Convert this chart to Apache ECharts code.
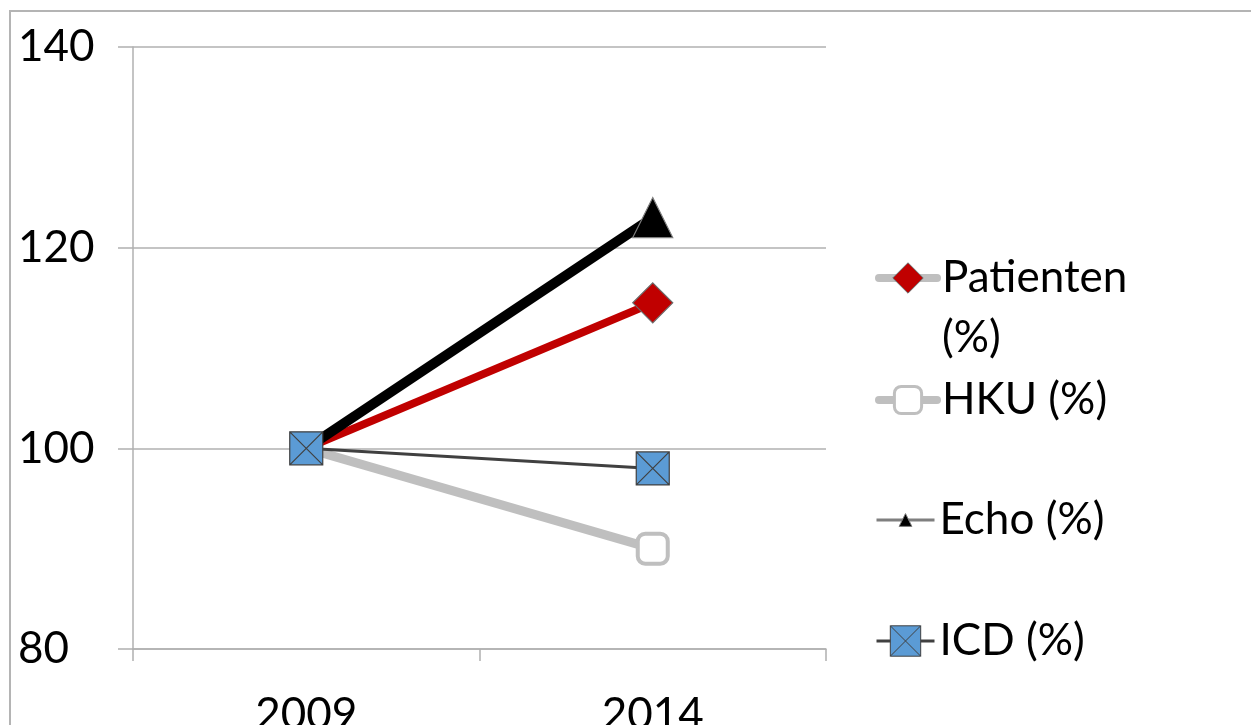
<!DOCTYPE html>
<html>
<head>
<meta charset="utf-8">
<script src="https://cdn.jsdelivr.net/npm/echarts@6/dist/echarts.min.js"></script>
<style>
html,body{margin:0;padding:0;background:#fff;overflow:hidden;}
#wrap{position:relative;width:1251px;height:725px;}
#frame{position:absolute;left:9px;top:10px;width:1300px;height:800px;border-left:2px solid #b4b4b4;border-top:2px solid #b4b4b4;}
#chart{position:absolute;left:0;top:0;width:1251px;height:725px;}
</style>
</head>
<body>
<div id="wrap"><div id="frame"></div><div id="chart"></div></div>
<script>
const categories = ['2009', '2014'];
const patienten = [100, 114.5];
const hku = [100, 90];
const echo = [100, 123];
const icd = [100, 98];
const yTicks = [80, 100, 120, 140];
const seriesNames = ['Patienten (%)', 'HKU (%)', 'Echo (%)', 'ICD (%)'];

const FONT = 'Lato, "Open Sans", sans-serif';
const FS = 44;
const GRID = '#b0b0b0';
const crossSquare = 'path://M0,0 L10,0 L10,10 L0,10 Z M0,0 L10,10 M10,0 L0,10';

const chart = echarts.init(document.getElementById('chart'), null, {renderer: 'canvas'});

function legendBox(name, top, itemHeight, itemStyle, lineStyle, formatter) {
  return {
    show: true,
    orient: 'vertical',
    left: 875,
    top: top,
    padding: 0,
    itemWidth: 58,
    itemHeight: itemHeight,
    selectedMode: false,
    formatter: formatter || '{name}',
    textStyle: {fontFamily: FONT, fontSize: FS, color: '#000', lineHeight: 60},
    data: [{name: name, itemStyle: itemStyle, lineStyle: lineStyle}]
  };
}

// hide the 2009 markers that sit under the ICD marker
function hideFirst(size) {
  return function (v, p) { return p.dataIndex === 0 ? 0 : size; };
}

const option = {
  animation: false,
  backgroundColor: 'transparent',
  grid: {left: 133, right: 425, top: 47, bottom: 76, outerBoundsMode: 'none', containLabel: false},
  legend: [
    legendBox(seriesNames[0], 278 - 90, 38,
      {color: '#c00000', borderColor: '#6b6b6b', borderWidth: 1},
      {color: '#bfbfbf', width: 8, cap: 'round'},
      function () { return '\nPatienten\n(%)'; }),
    legendBox(seriesNames[1], 400 - 30, 34,
      {color: '#ffffff', borderColor: '#bfbfbf', borderWidth: 3},
      {color: '#bfbfbf', width: 8, cap: 'round'}),
    legendBox(seriesNames[2], 520 - 30, 16,
      {color: '#000000', borderColor: '#7f7f7f', borderWidth: 1},
      {color: '#7f7f7f', width: 3}),
    legendBox(seriesNames[3], 641 - 30, 38,
      {color: '#5b9bd5', borderColor: '#404040', borderWidth: 1},
      {color: '#404040', width: 3})
  ],
  xAxis: {
    type: 'category',
    data: categories,
    boundaryGap: true,
    axisLine: {show: true, lineStyle: {color: GRID, width: 1.5}},
    axisTick: {show: true, length: 12, lineStyle: {color: GRID, width: 1.5}},
    axisLabel: {fontFamily: FONT, fontSize: FS, color: '#000', margin: 44},
    splitLine: {show: false}
  },
  yAxis: {
    type: 'value',
    min: yTicks[0],
    max: yTicks[yTicks.length - 1],
    interval: yTicks[1] - yTicks[0],
    axisLine: {show: true, lineStyle: {color: GRID, width: 1.5}},
    axisTick: {show: true, length: 15, lineStyle: {color: GRID, width: 1.5}},
    axisLabel: {fontFamily: FONT, fontSize: FS, color: '#000', align: 'left', margin: 115},
    splitLine: {show: true, lineStyle: {color: GRID, width: 1.5}}
  },
  series: [
    {
      name: seriesNames[0], type: 'line', data: patienten,
      symbol: 'diamond', symbolSize: hideFirst(40),
      itemStyle: {color: '#c00000', borderColor: '#6b6b6b', borderWidth: 1.2},
      lineStyle: {color: '#c00000', width: 8}
    },
    {
      name: seriesNames[1], type: 'line', data: hku,
      symbol: 'roundRect', symbolSize: hideFirst(30),
      itemStyle: {color: '#ffffff', borderColor: '#bfbfbf', borderWidth: 4},
      lineStyle: {color: '#bfbfbf', width: 9}
    },
    {
      name: seriesNames[2], type: 'line', data: echo,
      symbol: 'triangle', symbolSize: hideFirst(40),
      itemStyle: {color: '#000000', borderColor: '#7f7f7f', borderWidth: 1.2},
      lineStyle: {color: '#000000', width: 10}
    },
    {
      name: seriesNames[3], type: 'line', data: icd,
      symbol: crossSquare, symbolSize: 33,
      itemStyle: {color: '#5b9bd5', borderColor: '#404040', borderWidth: 1.2},
      lineStyle: {color: '#404040', width: 3}
    }
  ]
};
chart.setOption(option);
</script>
</body>
</html>
